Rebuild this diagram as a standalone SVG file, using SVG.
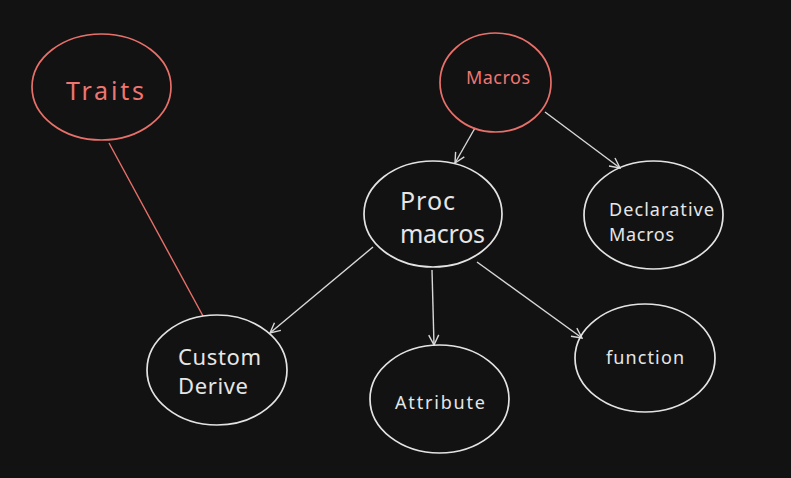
<svg xmlns="http://www.w3.org/2000/svg" width="791" height="478" viewBox="0 0 791 478">
<style>
.bg{fill:#121212}
.n{fill:none;stroke:#e3e3e3;stroke-width:1.7}
.r{fill:none;stroke:#e8706a;stroke-width:1.7}
.c{fill:none;stroke:#d8d8d8;stroke-width:1.4}
.cr{fill:none;stroke:#e8706a;stroke-width:1.4}
.t{font-family:"Noto Sans","Liberation Sans",sans-serif;fill:#e6e6e6}
.tr{font-family:"Noto Sans","Liberation Sans",sans-serif;fill:#ef7670}
</style>
<defs>
<marker id="ah" viewBox="0 0 12 12" refX="11" refY="6" markerWidth="12" markerHeight="12" markerUnits="userSpaceOnUse" orient="auto">
<path d="M1,1 L11,6 L1,11" fill="none" stroke="#d8d8d8" stroke-width="1.4"/>
</marker>
</defs>
<rect class="bg" x="0" y="0" width="791" height="478"/>
<g id="connectors">
<line class="cr" x1="109" y1="143" x2="203" y2="316"/>
<line class="c" x1="475" y1="128" x2="455" y2="163" marker-end="url(#ah)"/>
<line class="c" x1="545" y1="112" x2="620" y2="168" marker-end="url(#ah)"/>
<line class="c" x1="373" y1="247" x2="270" y2="333" marker-end="url(#ah)"/>
<line class="c" x1="432" y1="270" x2="434" y2="345" marker-end="url(#ah)"/>
<line class="c" x1="477" y1="262" x2="582" y2="338" marker-end="url(#ah)"/>
</g>
<g id="traits">
<ellipse class="r" cx="101.5" cy="87" rx="69.5" ry="53"/>
<text class="tr" x="105" y="100" font-size="25" text-anchor="middle" textLength="78">Traits</text>
</g>
<g id="macros">
<ellipse class="r" cx="495.5" cy="82.5" rx="55.5" ry="49.5"/>
<text class="tr" x="498" y="84" font-size="18" text-anchor="middle" textLength="64">Macros</text>
</g>
<g id="proc-macros">
<ellipse class="n" cx="433" cy="214" rx="69" ry="53"/>
<text class="t" x="400" y="210" font-size="25" textLength="55">Proc</text>
<text class="t" x="400" y="243" font-size="25" textLength="85">macros</text>
</g>
<g id="declarative-macros">
<ellipse class="n" cx="653.5" cy="215" rx="69.5" ry="54"/>
<text class="t" x="609" y="216" font-size="18" textLength="105">Declarative</text>
<text class="t" x="609" y="241" font-size="18" textLength="65">Macros</text>
</g>
<g id="custom-derive">
<ellipse class="n" cx="217" cy="370" rx="70" ry="55"/>
<text class="t" x="178" y="365" font-size="22" textLength="83">Custom</text>
<text class="t" x="178" y="394" font-size="22" textLength="70">Derive</text>
</g>
<g id="attribute">
<ellipse class="n" cx="439.5" cy="399" rx="69.5" ry="54"/>
<text class="t" x="440" y="409" font-size="18" text-anchor="middle" textLength="90">Attribute</text>
</g>
<g id="function">
<ellipse class="n" cx="645" cy="358" rx="70" ry="54"/>
<text class="t" x="645" y="364" font-size="18" text-anchor="middle" textLength="78">function</text>
</g>
</svg>
